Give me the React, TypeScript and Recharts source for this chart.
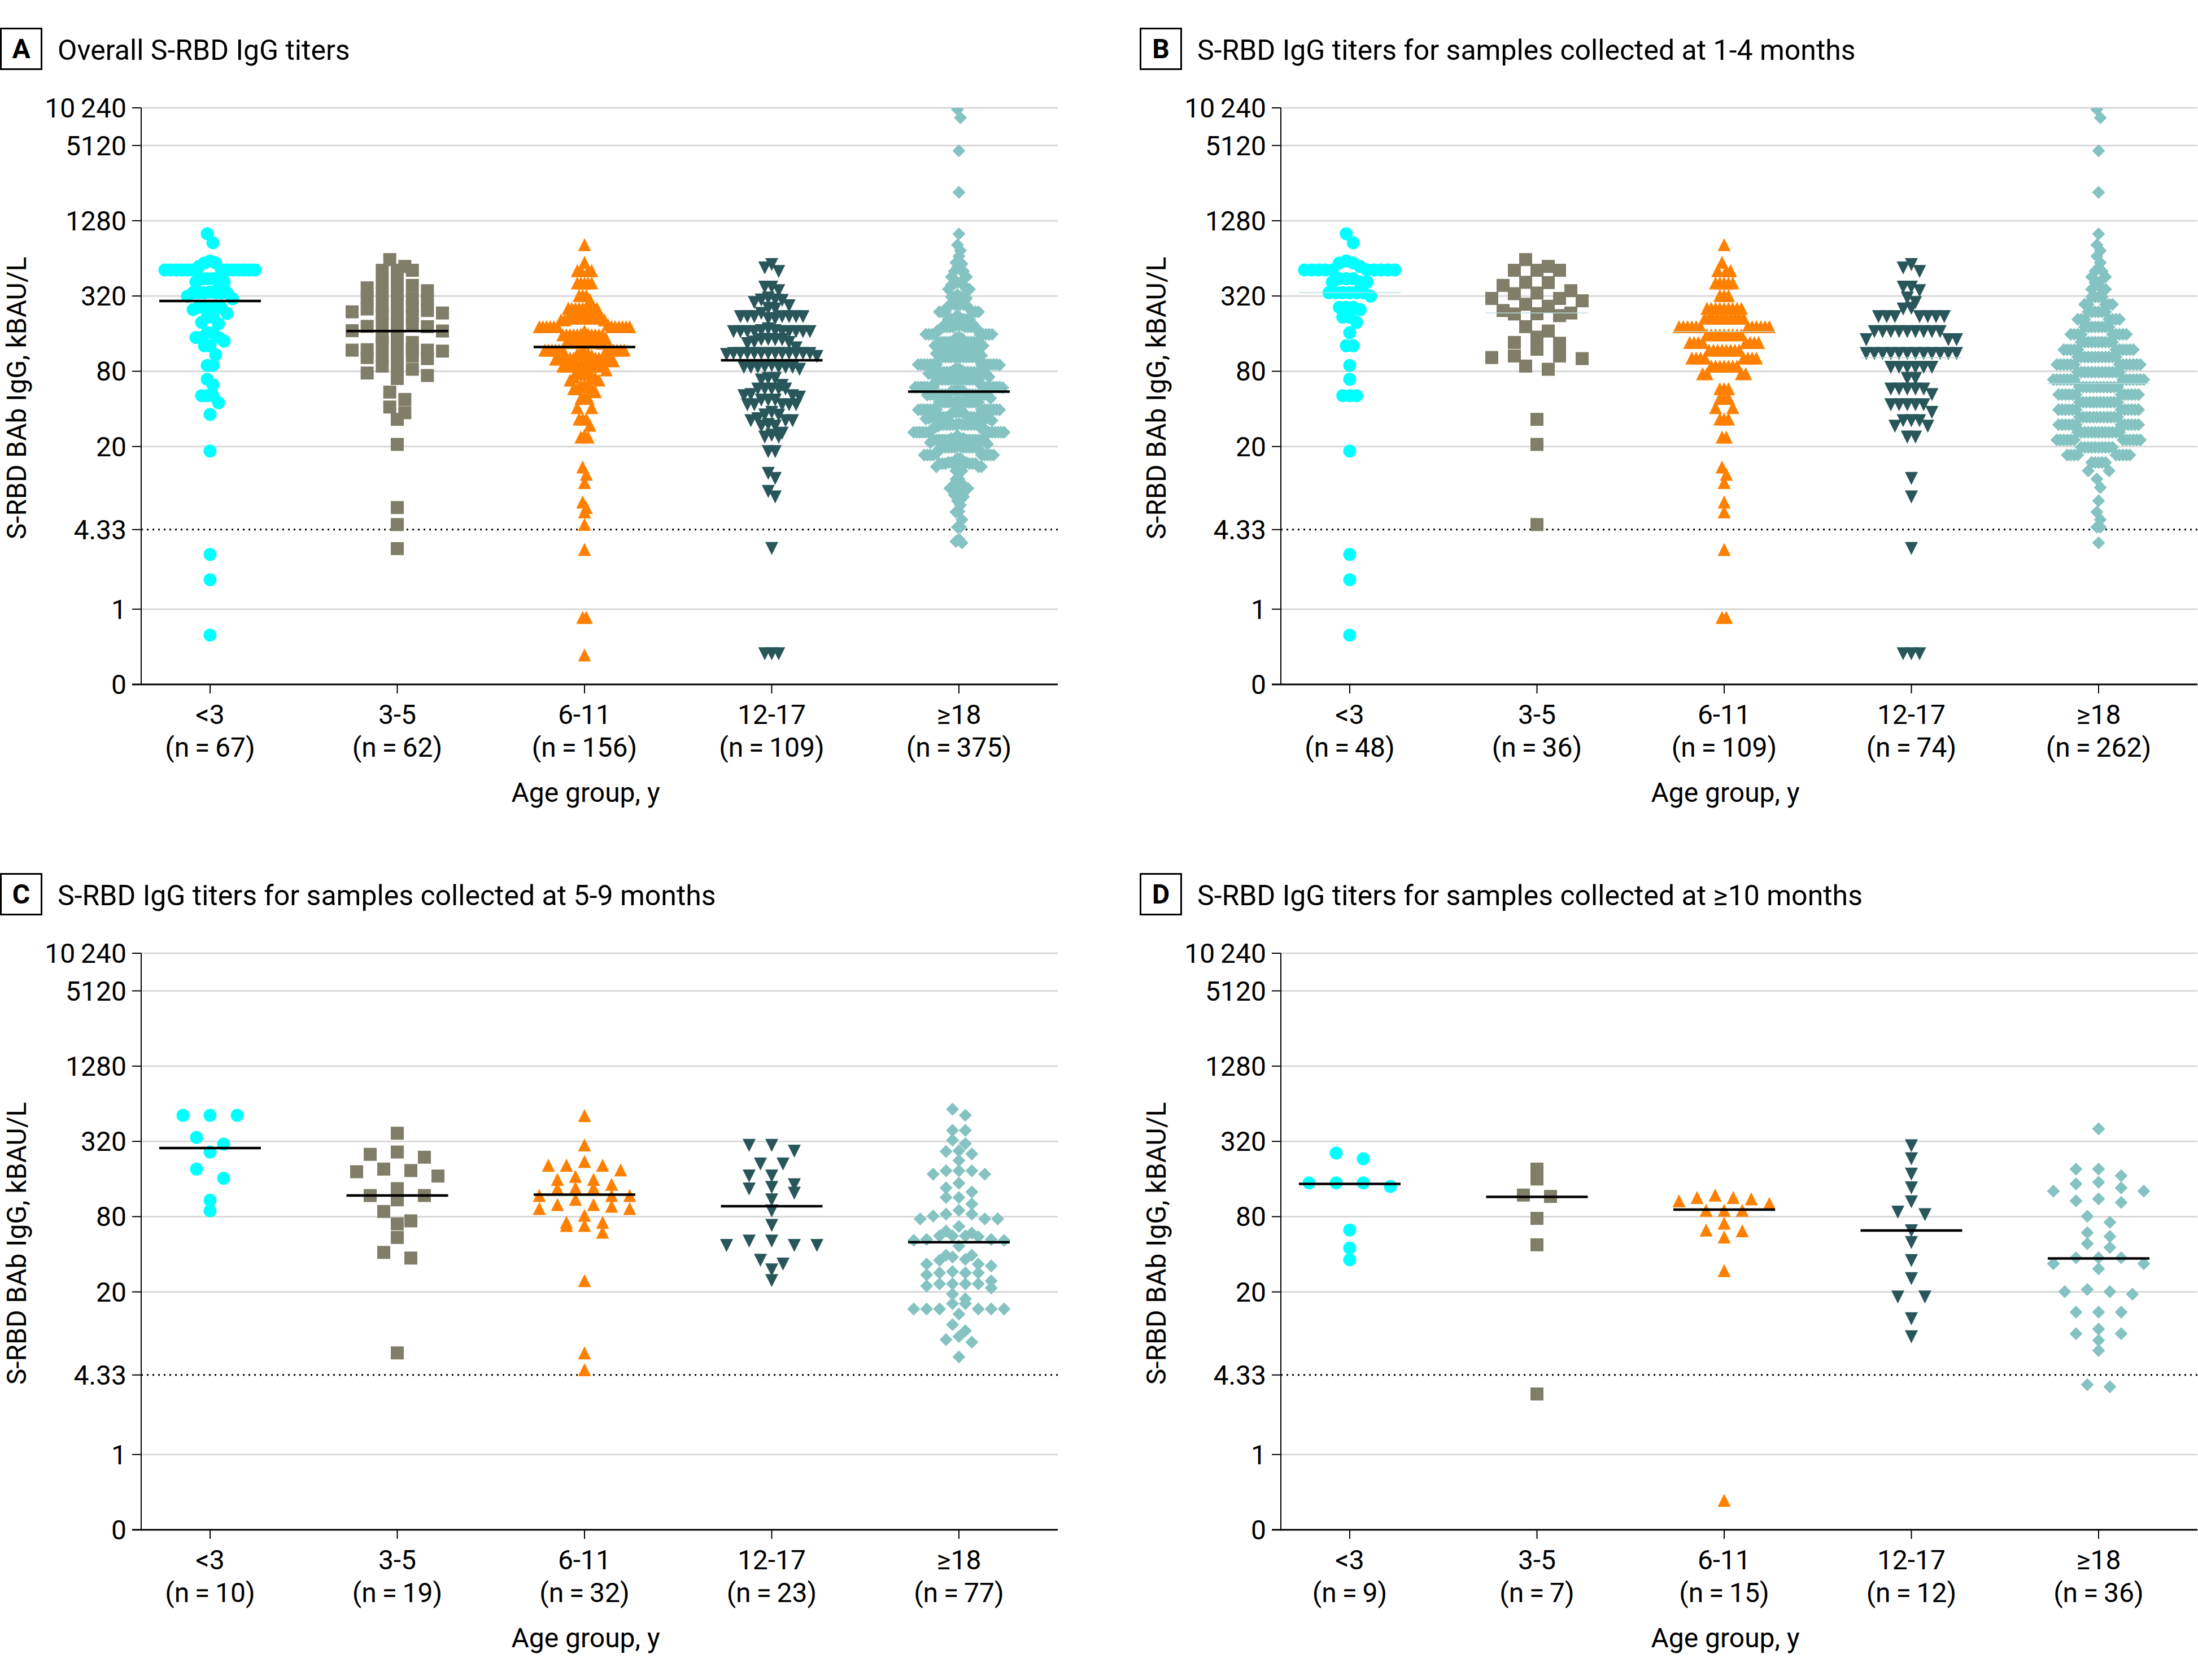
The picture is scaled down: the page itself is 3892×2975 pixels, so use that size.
import React from 'react';
import { ScatterChart, Scatter, XAxis, YAxis, CartesianGrid, ReferenceLine } from 'recharts';

const FONT = 'Roboto, "Liberation Sans", Arial, sans-serif';

const AGE_GROUPS = ['<3', '3-5', '6-11', '12-17', '≥18'];
const Y_TICKS = [0, 1, 4.33, 20, 80, 320, 1280, 5120, 10240];
const Y_TICK_LABELS = ['0', '1', '4.33', '20', '80', '320', '1280', '5120', '10\u2009240'];
const GRID_TICKS = [1, 20, 80, 320, 1280, 5120, 10240];
const LOD = 4.33;

const COLORS = ['#00ffff', '#807e68', '#ff8000', '#28565a', '#84c3c2'];
const SHAPES = ['circle', 'square', 'up', 'down', 'diamond'];

// n shown under each age group
const N_A = [67, 62, 156, 109, 375];
const N_B = [48, 36, 109, 74, 262];
const N_C = [10, 19, 32, 23, 77];
const N_D = [9, 7, 15, 12, 36];

// medians, kBAU/L
const MED_A = [292, 168, 125, 98, 55];
const MED_B = [340, 234, 166, 103, 64];
const MED_C = [283, 118, 120, 97, 50];
const MED_D = [146, 115, 91, 62, 37];

// swarm rows: [titer kBAU/L, number of points]
// 1-4 months
const B_LT3 = [[1007, 1], [853, 1], [610, 1], [588, 2], [550, 1], [517, 10], [440, 3], [414, 3], [340, 6], [319, 1], [260, 3], [249, 1], [217, 2], [197, 1], [163, 1], [128, 2], [89, 1], [69, 1], [51, 3], [18.4, 1], [2.74, 1], [1.72, 1], [0.62, 1]];
const B_3TO5 = [[626, 1], [552, 1], [514, 3], [412, 1], [410, 1], [389, 1], [353, 1], [338, 1], [334, 1], [306, 2], [293, 1], [275, 1], [265, 1], [245, 1], [234, 1], [231, 1], [230, 1], [223, 1], [182, 1], [168, 1], [150, 1], [136, 1], [134, 1], [120, 1], [106, 2], [103, 1], [101, 1], [88, 1], [83, 1], [33, 1], [20.8, 1], [4.75, 1]];
const B_6TO11 = [[824, 1], [596, 1], [511, 3], [407, 5], [323, 3], [255, 9], [213, 10], [182, 12], [157, 9], [136, 8], [118, 8], [102, 8], [88, 7], [76.5, 4], [58, 3], [48.6, 3], [41, 2], [33.2, 3], [23.8, 2], [13.7, 1], [12, 1], [10.3, 1], [7.2, 1], [6, 1], [3, 1], [0.86, 2]];
const B_12TO17 = [[571, 1], [537, 1], [503, 1], [377, 2], [353, 1], [308, 1], [284, 1], [255, 1], [252, 1], [219, 7], [166, 9], [143, 3], [111, 12], [86, 6], [70, 2], [57.6, 5], [52, 1], [43.2, 5], [37.5, 1], [32.2, 3], [29.1, 2], [23.8, 2], [11.1, 1], [7.9, 1], [3.06, 1], [0.44, 3]];
const B_GE18 = [[9946, 1], [8540, 1], [4640, 1], [2165, 1], [1003, 1], [820, 1], [739, 1], [666, 1], [592, 1], [541, 1], [505, 2], [455, 2], [410, 2], [362, 3], [315, 4], [274, 5], [239, 6], [208, 7], [181, 8], [158, 9], [137, 10], [119, 11], [104, 12], [90.5, 13], [78.8, 13], [68.6, 14], [59.7, 12], [52, 12], [45.3, 12], [39.4, 12], [34.3, 12], [29.9, 12], [26, 13], [22.6, 12], [19.7, 10], [17.1, 9], [14.9, 5], [12.8, 2], [11, 1], [9.4, 1], [7.36, 1], [5.98, 1], [5.2, 1], [4.53, 2], [3.39, 1]];

// 5-9 months
const C_LT3 = [[517, 3], [344, 1], [304, 1], [263, 1], [192, 1], [162, 1], [108, 1], [89, 1]];
const C_3TO5 = [[372, 1], [263, 1], [252, 1], [239, 1], [192, 1], [187, 1], [183, 1], [169, 1], [134, 1], [118, 2], [109, 1], [88, 1], [74, 1], [70, 1], [54.5, 1], [41.4, 1], [37.3, 1], [6.5, 1]];
const C_6TO11 = [[515, 1], [300, 1], [221, 1], [206, 3], [189, 1], [168, 1], [159, 2], [145, 1], [136, 2], [134, 1], [118, 3], [110, 1], [100, 2], [97, 1], [93, 2], [82, 1], [72, 2], [68, 2], [60, 1], [24.6, 1], [6.5, 1], [4.77, 1]];
const C_12TO17 = [[297, 2], [267, 1], [211, 2], [169, 2], [144, 1], [137, 1], [133, 1], [123, 1], [109, 1], [89, 1], [68, 1], [51, 2], [47, 3], [35.8, 1], [33.4, 1], [30, 1], [24.6, 1]];
const C_GE18 = [[579, 1], [517, 1], [392, 2], [327, 1], [307, 1], [269, 1], [266, 1], [254, 1], [225, 1], [186, 3], [175, 2], [148, 1], [136, 1], [126, 1], [114, 2], [101, 1], [89.8, 1], [83.8, 2], [80.9, 1], [76.8, 3], [66.9, 1], [61.3, 1], [59.2, 1], [56.2, 3], [55.3, 1], [52.5, 2], [51.6, 2], [46.5, 1], [39.3, 2], [38, 1], [36.5, 1], [35.8, 1], [33.4, 2], [32.3, 1], [29.1, 1], [28.4, 3], [27.4, 1], [24.5, 1], [23.2, 4], [22.3, 1], [21.5, 1], [19.2, 1], [17.6, 1], [16.1, 2], [14.6, 6], [13.3, 1], [10.95, 1], [9.77, 1], [8.8, 1], [8.3, 1], [7.93, 1], [6.05, 1]];

// >=10 months
const D_LT3 = [[258, 1], [232, 1], [149, 3], [139.5, 1], [62.5, 1], [44.8, 1], [36.1, 1]];
const D_3TO5 = [[192, 1], [160, 1], [119, 1], [116, 1], [77.5, 1], [47.6, 1], [3.05, 1]];
const D_6TO11 = [[119, 1], [114, 2], [111, 1], [107, 1], [102, 1], [90, 3], [71, 1], [62.5, 1], [61.7, 1], [55, 1], [29.6, 1], [0.43, 1]];
const D_12TO17 = [[295, 1], [232, 1], [175, 1], [136, 1], [105, 1], [87, 1], [83, 1], [61.7, 1], [49.7, 1], [35.6, 1], [25.5, 1], [18.2, 2], [12.2, 1], [8.75, 1]];
const D_GE18 = [[403, 1], [192, 2], [170, 1], [151, 1], [146, 1], [136, 1], [128, 2], [111, 1], [107, 1], [104, 1], [80.6, 1], [72, 1], [59.6, 1], [55.5, 1], [48.6, 1], [45.4, 1], [37.5, 3], [33.6, 2], [30.6, 1], [20.9, 1], [20.1, 2], [19.2, 1], [13.8, 3], [10.1, 1], [9.27, 2], [8.2, 1], [6.8, 1], [3.62, 1], [3.48, 1]];

const B_GROUPS = [B_LT3, B_3TO5, B_6TO11, B_12TO17, B_GE18];
const C_GROUPS = [C_LT3, C_3TO5, C_6TO11, C_12TO17, C_GE18];
const D_GROUPS = [D_LT3, D_3TO5, D_6TO11, D_12TO17, D_GE18];
// overall = all collection windows together
const A_GROUPS = B_GROUPS.map((g, i) => [...g, ...C_GROUPS[i], ...D_GROUPS[i]]);

const PANEL_W = 1877;
const PANEL_H = 1497;
const X_DOMAIN = [-0.368, 4.528];
const PX_PER_CAT = 331.5;
const toLog = (t: number) => (t <= 0 ? -2 : Math.log2(t));
const Y_POS = Y_TICKS.map(toLog);
const GRID_POS = GRID_TICKS.map(toLog);

// prism-like dot plot: bin values into rows, one column spacing per group
const swarm = (rows: number[][], group: number) => {
  const vals: number[] = [];
  rows.forEach(([t, n]) => {
    for (let k = 0; k < n; k++) vals.push(toLog(t));
  });
  vals.sort((a, b) => b - a);
  const bins: number[][] = [];
  let i = 0;
  while (i < vals.length) {
    let j = i;
    while (j < vals.length && vals[i] - vals[j] < 0.25) j++;
    bins.push(vals.slice(i, j));
    i = j;
  }
  const maxN = Math.max(...bins.map((b) => b.length));
  const sp = maxN > 1 ? Math.min(48, 160 / (maxN - 1)) : 0;
  const out: { x: number; y: number }[] = [];
  bins.forEach((bin) => {
    const n = bin.length;
    const slots = Array.from({ length: n }, (_, k) => (k - (n - 1) / 2) * sp).sort(
      (a, b) => Math.abs(a) - Math.abs(b) || a - b
    );
    bin.forEach((y, k) => out.push({ x: group + slots[k] / PX_PER_CAT, y }));
  });
  return out;
};

const marker = (kind: string, color: string) => (p: any) => {
  const { cx, cy } = p;
  if (cx == null || cy == null) return <g />;
  const r = 11.5;
  if (kind === 'circle') return <circle cx={cx} cy={cy} r={r} fill={color} />;
  if (kind === 'square') return <rect x={cx - r} y={cy - r} width={2 * r} height={2 * r} fill={color} />;
  if (kind === 'up') return <polygon points={`${cx},${cy - r} ${cx + r},${cy + r} ${cx - r},${cy + r}`} fill={color} />;
  if (kind === 'down') return <polygon points={`${cx - r},${cy - r} ${cx + r},${cy - r} ${cx},${cy + r}`} fill={color} />;
  return <polygon points={`${cx},${cy - r} ${cx + r},${cy} ${cx},${cy + r} ${cx - r},${cy}`} fill={color} />;
};

const medianMark = (color: string, width: number) => (p: any) => {
  const { cx, cy } = p;
  if (cx == null || cy == null) return <g />;
  return <line x1={cx - 90} x2={cx + 90} y1={cy} y2={cy} stroke={color} strokeWidth={width} />;
};

const YTick = (props: any) => {
  const { x, y, payload } = props;
  const idx = Y_POS.findIndex((v) => Math.abs(v - payload.value) < 1e-6);
  return (
    <text x={x} y={y + 17} textAnchor="end" fontSize={48} fontFamily={FONT} fill="#000">
      {idx >= 0 ? Y_TICK_LABELS[idx] : ''}
    </text>
  );
};

const CatTick = (props: any) => {
  const { x, y, payload, ns } = props;
  const i = Math.round(payload.value);
  return (
    <g>
      <text x={x} y={y + 54} textAnchor="middle" fontSize={48} fontFamily={FONT} fill="#000">
        {AGE_GROUPS[i]}
      </text>
      <text x={x} y={y + 112} textAnchor="middle" fontSize={48} fontFamily={FONT} fill="#000">
        {`(n\u2009=\u2009${ns[i]})`}
      </text>
    </g>
  );
};

type PanelProps = {
  letter: string;
  title: string;
  left: number;
  top: number;
  groups: number[][][];
  ns: number[];
  medians: number[];
  thinMedians?: boolean;
};

const Panel: React.FC<PanelProps> = ({ letter, title, left, top, groups, ns, medians, thinMedians }) => (
  <div style={{ position: 'absolute', left, top, width: PANEL_W, height: PANEL_H }}>
    <ScatterChart width={PANEL_W} height={PANEL_H} margin={{ top: 191, right: 4, bottom: 0, left: 0 }}>
      <CartesianGrid vertical={false} horizontalValues={GRID_POS} stroke="#d9d9d9" strokeWidth={3} />
      <XAxis
        type="number"
        dataKey="x"
        domain={X_DOMAIN}
        ticks={[0, 1, 2, 3, 4]}
        interval={0}
        allowDataOverflow
        height={285}
        tickSize={16}
        tickMargin={0}
        axisLine={{ stroke: '#000', strokeWidth: 3 }}
        tickLine={{ stroke: '#000', strokeWidth: 2 }}
        tick={(p: any) => <CatTick {...p} ns={ns} />}
      />
      <YAxis
        type="number"
        dataKey="y"
        domain={[-2, Math.log2(10240)]}
        ticks={Y_POS}
        interval={0}
        allowDataOverflow
        width={250}
        tickSize={16}
        tickMargin={10}
        axisLine={{ stroke: '#000', strokeWidth: 2 }}
        tickLine={{ stroke: '#000', strokeWidth: 2 }}
        tick={(p: any) => <YTick {...p} />}
      />
      <ReferenceLine y={toLog(LOD)} stroke="#000" strokeWidth={3} strokeDasharray="3 7" />
      {groups.map((rows, i) => (
        <Scatter
          key={AGE_GROUPS[i]}
          name={AGE_GROUPS[i]}
          data={swarm(rows, i)}
          fill={COLORS[i]}
          shape={marker(SHAPES[i], COLORS[i])}
          isAnimationActive={false}
        />
      ))}
      <Scatter
        name="median"
        data={medians.map((m, i) => ({ x: i, y: toLog(m) }))}
        shape={medianMark(thinMedians ? '#b9dede' : '#000', thinMedians ? 1.5 : 4.5)}
        isAnimationActive={false}
      />
    </ScatterChart>
    <svg width={PANEL_W} height={PANEL_H} style={{ position: 'absolute', left: 0, top: 0, pointerEvents: 'none' }}>
      <rect x={1.5} y={50.5} width={72} height={72} fill="none" stroke="#000" strokeWidth={3} />
      <text x={37.5} y={103} textAnchor="middle" fontSize={48} fontWeight={700} fontFamily={FONT}>{letter}</text>
      <text x={102} y={106} fontSize={50} fontFamily={FONT}>{title}</text>
      <text transform="translate(46,705) rotate(-90)" textAnchor="middle" fontSize={48} fontFamily={FONT}>
        S-RBD BAb IgG, kBAU/L
      </text>
      <text x={1037} y={1420} textAnchor="middle" fontSize={48} fontFamily={FONT}>Age group, y</text>
      <line x1={234} x2={251} y1={1212} y2={1212} stroke="#000" strokeWidth={3} />
    </svg>
  </div>
);

export default function App() {
  return (
    <div style={{ position: 'absolute', left: 0, top: 0, width: 3892, height: 2975, background: '#fff', overflow: 'hidden' }}>
      <Panel letter="A" title="Overall S-RBD IgG titers" left={0} top={0} groups={A_GROUPS} ns={N_A} medians={MED_A} />
      <Panel letter="B" title="S-RBD IgG titers for samples collected at 1-4 months" left={2018} top={0} groups={B_GROUPS} ns={N_B} medians={MED_B} thinMedians />
      <Panel letter="C" title="S-RBD IgG titers for samples collected at 5-9 months" left={0} top={1497} groups={C_GROUPS} ns={N_C} medians={MED_C} />
      <Panel letter="D" title="S-RBD IgG titers for samples collected at ≥10 months" left={2018} top={1497} groups={D_GROUPS} ns={N_D} medians={MED_D} />
    </div>
  );
}
